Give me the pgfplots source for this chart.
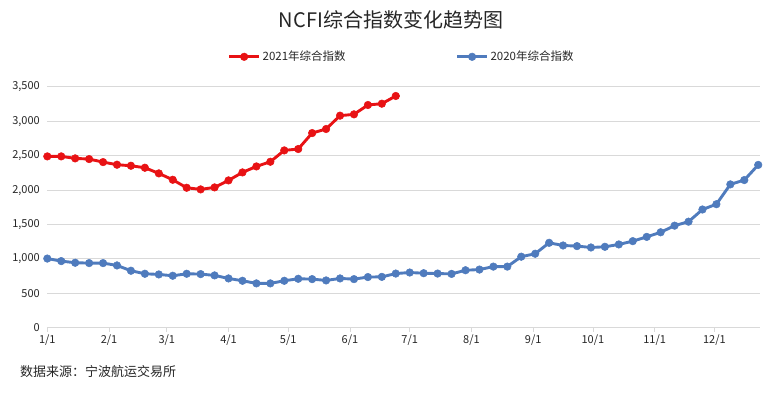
\documentclass[border=0pt]{standalone}
\usepackage{pgfplots}
\pgfplotsset{compat=1.18}
\usepackage{pgfplotstable}
\usepackage{fontspec}
\setmainfont{Noto Sans CJK SC}
\definecolor{myred}{RGB}{232,18,20}
\definecolor{myblue}{RGB}{79,123,189}
\definecolor{gridc}{RGB}{217,217,217}
\pgfplotstableread{
x y
0 2490
1 2490
2 2461
3 2451
4 2407
5 2369
6 2354
7 2325
8 2243
9 2150
10 2034
11 2010
12 2039
13 2141
14 2257
15 2344
16 2412
17 2577
18 2597
19 2829
20 2888
21 3082
22 3101
23 3237
24 3256
25 3368
}\redtab
\pgfplotstableread{
x y
0 1005
1 968
2 944
3 939
4 939
5 905
6 828
7 784
8 774
9 755
10 784
11 779
12 760
13 716
14 682
15 644
16 644
17 682
18 711
19 706
20 687
21 716
22 706
23 736
24 739
25 787
26 802
27 792
28 787
29 782
30 835
31 845
32 888
33 888
34 1032
35 1075
36 1234
37 1195
38 1186
39 1166
40 1176
41 1210
42 1258
43 1320
44 1387
45 1483
46 1541
47 1718
48 1795
49 2083
50 2146
51 2366
}\bluetab
\begin{document}
\begin{tikzpicture}[x=1pt,y=1pt]
\useasboundingbox (0,0) rectangle (784,393);
\begin{axis}[
  at={(47.3pt,65.3pt)}, anchor=south west,
  scale only axis, width=713pt, height=240.8pt,
  xmin=0, xmax=51.15, ymin=0, ymax=3500,
  axis lines*=left,
  x axis line style={gridc, line width=0.8pt},
  y axis line style={draw=none},
  ymajorgrids, grid style={gridc, line width=0.8pt},
  xtick={0,4.4286,8.5714,13,17.2857,21.7143,26,30.4286,34.8571,39.1429,43.5714,47.8571},
  xticklabels={1/1,2/1,3/1,4/1,5/1,6/1,7/1,8/1,9/1,10/1,11/1,12/1},
  ytick={0,500,1000,1500,2000,2500,3000,3500},
  tick align=outside, major tick length=4pt,
  xtick style={gridc, line width=0.8pt},
  ytick style={draw=none},
  tick label style={font=\fontsize{11}{12}\selectfont, text=black!85},
  /pgf/number format/1000 sep={,},
  /pgf/number format/assume math mode=true,
  clip=false,
  legend columns=2,
  legend style={at={(0.497,1.125)}, anchor=center, draw=none, fill=none,
    font=\fontsize{11.5}{12}\selectfont, text=black!85,
    /tikz/every even column/.append style={column sep=108pt}},
  legend image code/.code={\draw[#1, mark repeat=2, mark phase=2] plot coordinates {(0pt,0pt)(15pt,0pt)(30pt,0pt)};},
]
\addplot[myred, line width=2.9pt, mark=*, mark size=3.8pt, mark options={fill=myred, line width=0.5pt}] table[x=x,y=y] {\redtab};
\addlegendentry{2021年综合指数}
\addplot[myblue, line width=2.9pt, mark=*, mark size=3.8pt, mark options={fill=myblue, line width=0.5pt}] table[x=x,y=y] {\bluetab};
\addlegendentry{2020年综合指数}
\end{axis}
\node[font=\fontsize{20}{21}\selectfont, text=black!85] at (391,373) {NCFI综合指数变化趋势图};
\node[font=\fontsize{13}{14}\selectfont, text=black!85, anchor=west, inner sep=0pt] at (20,21) {数据来源：宁波航运交易所};
\end{tikzpicture}
\end{document}
